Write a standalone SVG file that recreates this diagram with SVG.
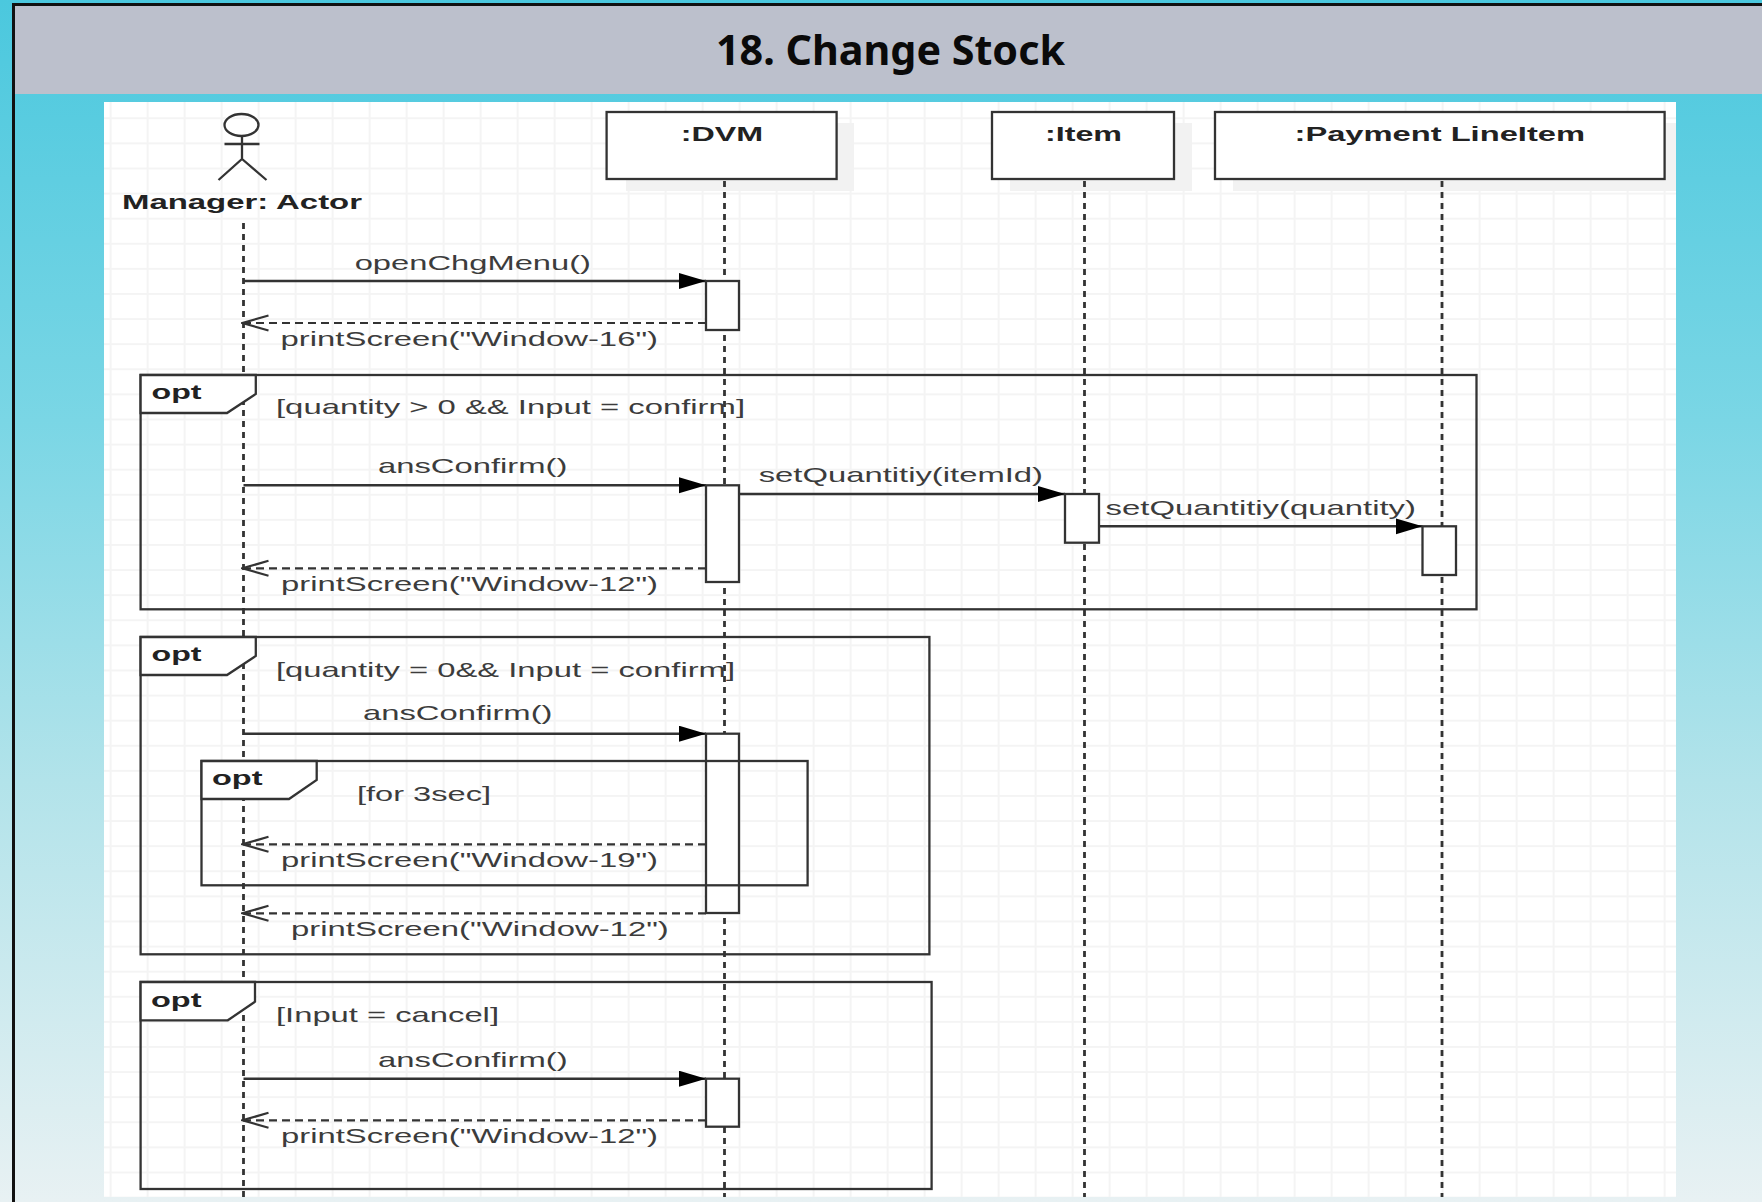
<svg xmlns="http://www.w3.org/2000/svg" width="1762" height="1202" viewBox="0 0 1762 1202">
<style>
.ln{fill:none;stroke:#333;stroke-width:2.3}
.box{fill:#fff;stroke:#333;stroke-width:2.3}
.tab{fill:#fff;stroke:#333;stroke-width:2.3}
.sh{fill:#f2f2f2}
.life{fill:none;stroke:#333;stroke-width:2.8;stroke-dasharray:6 5}
.ret{fill:none;stroke:#333;stroke-width:2.2;stroke-dasharray:8 5;marker-end:url(#open)}
.call{fill:none;stroke:#333;stroke-width:2.4;marker-end:url(#solid)}
text{font-family:"Liberation Sans",Arial,sans-serif}
.t{font-size:21px;fill:#3c3c3c}
.b{font-size:20px;font-weight:bold;fill:#222}
.title{font-family:"Noto Sans",sans-serif;font-size:42px;font-weight:bold;fill:#0a0a0a}
</style>
<defs>
<linearGradient id="bg" x1="0" y1="0" x2="0" y2="1">
<stop offset="0" stop-color="#4bc8de"/><stop offset="0.35" stop-color="#7ad6e5"/><stop offset="0.65" stop-color="#b2e3ea"/><stop offset="1" stop-color="#e8f1f3"/>
</linearGradient>
<pattern id="grid" x="109.600" y="117.300" width="37" height="25.100" patternUnits="userSpaceOnUse">
<path d="M1 0V25.100M0 1H37" fill="none" stroke="#f4f4f4" stroke-width="2"/>
</pattern>
<marker id="solid" markerUnits="userSpaceOnUse" markerWidth="28" markerHeight="18" refX="27" refY="8" orient="auto">
<path d="M0 0L27 8L0 16Z" fill="#000"/>
</marker>
<marker id="open" markerUnits="userSpaceOnUse" markerWidth="30" markerHeight="20" refX="28" refY="9" orient="auto">
<path d="M2 1.500L28 9L2 16.500" fill="none" stroke="#333" stroke-width="2.2"/>
</marker>
</defs>

<rect width="1762" height="1202" fill="url(#bg)"/>
<rect x="15" y="6" width="1747" height="88" fill="#bcc0cc"/>
<path d="M13.500 1202V4.500H1762" fill="none" stroke="#111" stroke-width="3"/>
<text class="title" x="716" y="65" textLength="349" lengthAdjust="spacingAndGlyphs">18. Change Stock</text>
<rect x="104" y="102" width="1572" height="1095" fill="#fff"/>
<rect x="104" y="102" width="1572" height="1095" fill="url(#grid)"/>

<g id="actor-manager">
<ellipse class="ln" cx="241.500" cy="125" rx="17" ry="11"/>
<path class="ln" d="M224.500 144H259.500M242 136V159M218.500 180L242 159L266.500 180"/>
<text class="b" x="122" y="209" textLength="240" lengthAdjust="spacingAndGlyphs">Manager: Actor</text>
</g>
<g id="dvm">
<rect class="sh" x="626" y="123" width="228" height="68"/>
<rect class="box" x="606.600" y="112" width="230" height="67"/>
<text class="b" x="680.700" y="141" textLength="82.300" lengthAdjust="spacingAndGlyphs">:DVM</text>
</g>
<g id="item">
<rect class="sh" x="1010" y="123" width="182" height="68"/>
<rect class="box" x="992" y="112" width="182" height="67"/>
<text class="b" x="1045" y="141" textLength="77" lengthAdjust="spacingAndGlyphs">:Item</text>
</g>
<g id="payment-lineitem">
<rect class="sh" x="1233" y="123" width="443" height="68"/>
<rect class="box" x="1215" y="112" width="449.600" height="67"/>
<text class="b" x="1294.500" y="141" textLength="290.500" lengthAdjust="spacingAndGlyphs">:Payment LineItem</text>
</g>

<g id="connectors">
<line class="life" x1="243.500" y1="223" x2="243.500" y2="1197"/>
<line class="life" x1="724.500" y1="181" x2="724.500" y2="1197"/>
<line class="life" x1="1084.500" y1="181" x2="1084.500" y2="1197"/>
<line class="life" x1="1442" y1="181" x2="1442" y2="1197"/>

<line class="call" x1="243.500" y1="281" x2="706" y2="281"/>
<text class="t" x="354.700" y="270" textLength="236.300" lengthAdjust="spacingAndGlyphs">openChgMenu()</text>
<line class="ret" x1="706" y1="323" x2="242.500" y2="323"/>
<text class="t" x="280.600" y="346" textLength="377.400" lengthAdjust="spacingAndGlyphs">printScreen("Window-16")</text>

<line class="call" x1="243.500" y1="485.300" x2="706" y2="485.300"/>
<text class="t" x="378" y="473" textLength="189.400" lengthAdjust="spacingAndGlyphs">ansConfirm()</text>
<line class="ret" x1="706" y1="568.300" x2="242.500" y2="568.300"/>
<text class="t" x="281" y="591.300" textLength="377" lengthAdjust="spacingAndGlyphs">printScreen("Window-12")</text>
<line class="call" x1="739" y1="494" x2="1065" y2="494"/>
<text class="t" x="758.700" y="482" textLength="284.300" lengthAdjust="spacingAndGlyphs">setQuantitiy(itemId)</text>
<line class="call" x1="1099" y1="526.300" x2="1422.500" y2="526.300"/>
<text class="t" x="1105.600" y="515" textLength="310.400" lengthAdjust="spacingAndGlyphs">setQuantitiy(quantity)</text>

<line class="call" x1="243.500" y1="733.700" x2="706" y2="733.700"/>
<text class="t" x="363" y="720.200" textLength="189.500" lengthAdjust="spacingAndGlyphs">ansConfirm()</text>
<line class="ret" x1="706" y1="844.300" x2="242.500" y2="844.300"/>
<text class="t" x="281" y="867.300" textLength="377" lengthAdjust="spacingAndGlyphs">printScreen("Window-19")</text>
<line class="ret" x1="706" y1="913.300" x2="242.500" y2="913.300"/>
<text class="t" x="291" y="936" textLength="377.800" lengthAdjust="spacingAndGlyphs">printScreen("Window-12")</text>

<line class="call" x1="243.500" y1="1078.700" x2="706" y2="1078.700"/>
<text class="t" x="378" y="1067" textLength="189.700" lengthAdjust="spacingAndGlyphs">ansConfirm()</text>
<line class="ret" x1="706" y1="1120.300" x2="242.500" y2="1120.300"/>
<text class="t" x="281" y="1143" textLength="377" lengthAdjust="spacingAndGlyphs">printScreen("Window-12")</text>
</g>

<g id="act-dvm-1"><rect class="box" x="706" y="281" width="33" height="49"/></g>
<g id="act-dvm-2"><rect class="box" x="706" y="485.300" width="33" height="96.700"/></g>
<g id="act-item"><rect class="box" x="1065" y="494" width="34" height="48.700"/></g>
<g id="act-payment"><rect class="box" x="1422.500" y="526.300" width="33.500" height="48.700"/></g>
<g id="act-dvm-3"><rect class="box" x="706" y="733.700" width="33" height="179.300"/></g>
<g id="act-dvm-4"><rect class="box" x="706" y="1078.700" width="33" height="48"/></g>

<g id="opt-1">
<rect class="ln" x="140.600" y="375" width="1335.900" height="234.300"/>
<path class="tab" d="M140.600 375H255.800V394L227 413H140.600Z"/>
<text class="b" x="151.500" y="399" textLength="50" lengthAdjust="spacingAndGlyphs">opt</text>
<text class="t" x="276" y="414" textLength="469" lengthAdjust="spacingAndGlyphs">[quantity &gt; 0 &amp;&amp; Input = confirm]</text>
</g>
<g id="opt-2">
<rect class="ln" x="140.600" y="637" width="788.800" height="317.300"/>
<path class="tab" d="M140.600 637H255.800V656L227 675H140.600Z"/>
<text class="b" x="151.500" y="660.500" textLength="50" lengthAdjust="spacingAndGlyphs">opt</text>
<text class="t" x="276" y="676.700" textLength="459" lengthAdjust="spacingAndGlyphs">[quantity = 0&amp;&amp; Input = confirm]</text>
</g>
<g id="opt-2-inner">
<rect class="ln" x="201.500" y="761" width="606.100" height="124.300"/>
<path class="tab" d="M201.500 761H316.700V780L289 799H201.500Z"/>
<text class="b" x="212" y="785.300" textLength="50.500" lengthAdjust="spacingAndGlyphs">opt</text>
<text class="t" x="357" y="800.700" textLength="134" lengthAdjust="spacingAndGlyphs">[for 3sec]</text>
</g>
<g id="opt-3">
<rect class="ln" x="140.600" y="982" width="791" height="207"/>
<path class="tab" d="M140.600 982H255V1001.700L227.800 1020.300H140.600Z"/>
<text class="b" x="151" y="1006.500" textLength="50.500" lengthAdjust="spacingAndGlyphs">opt</text>
<text class="t" x="276" y="1021.700" textLength="223" lengthAdjust="spacingAndGlyphs">[Input = cancel]</text>
</g>
</svg>
